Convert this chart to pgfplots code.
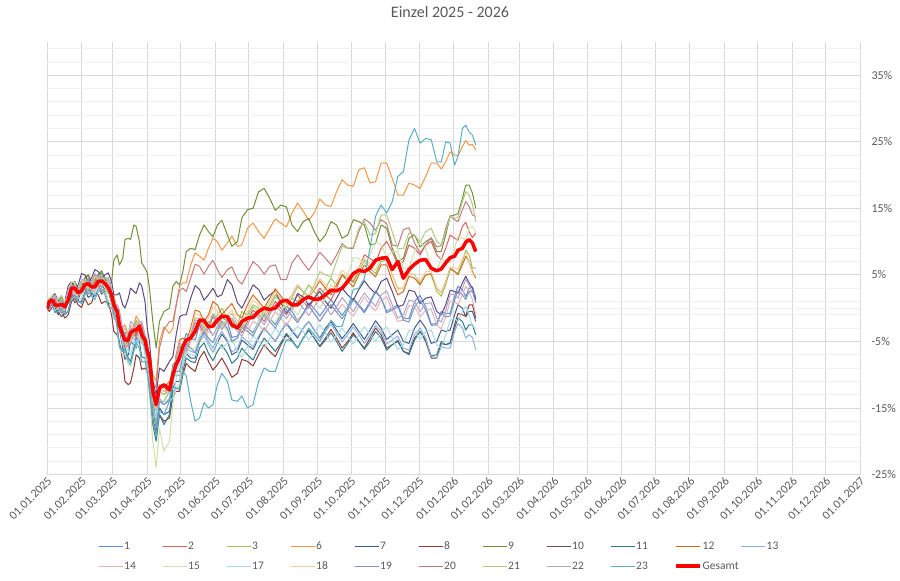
\documentclass[border=0pt]{standalone}
\usepackage{fontspec}
\setmainfont{Carlito}
\usepackage{pgfplots}
\usepackage{pgfplotstable}
\pgfplotsset{compat=1.18}
\definecolor{txt}{HTML}{595959}
\definecolor{gmaj}{HTML}{D9D9D9}
\definecolor{gmin}{HTML}{F0F0F0}
\definecolor{c1}{HTML}{5E8FD0}
\definecolor{c2}{HTML}{D9625E}
\definecolor{c3}{HTML}{96C55A}
\definecolor{c6}{HTML}{F7964A}
\definecolor{c7}{HTML}{3E5E8E}
\definecolor{c8}{HTML}{8E3B39}
\definecolor{c9}{HTML}{728F3A}
\definecolor{c10}{HTML}{5E4A7E}
\definecolor{c11}{HTML}{2E7C8E}
\definecolor{c12}{HTML}{D06F1E}
\definecolor{c13}{HTML}{8DB1DF}
\definecolor{c14}{HTML}{E8B4B2}
\definecolor{c15}{HTML}{CFE0AA}
\definecolor{c17}{HTML}{A8DAE6}
\definecolor{c18}{HTML}{FCCB9E}
\definecolor{c19}{HTML}{7A97C5}
\definecolor{c20}{HTML}{C47C79}
\definecolor{c21}{HTML}{B0CA82}
\definecolor{c22}{HTML}{B3A3CC}
\definecolor{c23}{HTML}{5AAEC4}
\definecolor{cg}{HTML}{FF0000}

% one row per series; columns are days since 01.01.2025
\pgfplotstableread{
name 0 5 10 16 22 28 34 40 46 52 58 63 68 73 78 83 88 92 95 98 101 105 110 116 122 129 137 145 153 162 171 180 190 200 210 220 230 240 250 260 270 280 290 300 310 320 330 340 350 358 366 373 379 385 2 7 13 19 25 31 37 43 49 55 60 65 70 75 80 85 90 113 119 125 133 141 149 157 166 175 185 195 205 215 225 235 245 255 265 275 285 295 305 315 325 335 345 354 362 369 376 382
s1 0 1.5 0.8 0.2 3.5 2.8 4.5 3.6 5.0 4.2 2.5 -0.5 -3.8 -5.0 -3.2 -2.5 -4.8 -9.0 -14.0 -17.0 -12.5 -13.0 -12.0 -8.0 -5.5 -4.5 -2.5 -3.0 -2.8 -2.0 -4.2 -3.0 -2.0 -1.5 -1.0 -0.5 -0.8 -0.1 0.0 0.0 0.2 0.5 1.0 1.5 0.0 -1.5 1.0 0.2 -2.3 -0.8 1.8 2.8 3.0 1.5 1.4 0.3 1.2 0.9 4.0 2.7 4.9 3.4 5.3 4.2 0.0 -1.0 -5.6 -3.1 -4.0 -2.3 -7.9 -8.5 -8.0 -3.8 -4.8 -1.5 -4.1 -1.4 -4.4 -2.4 -3.7 -0.5 -2.5 0.3 -1.9 0.8 -1.2 1.3 -1.1 1.5 -0.5 2.6 -0.5 0.5 -1.6 1.9 -2.4 -0.5 -0.8 3.3 1.7 3.2
s2 0 1.2 0.5 0.8 3.2 2.5 3.5 3.8 4.5 4.0 2.2 -0.5 -3.5 -4.5 -3.0 -2.5 -4.5 -9.0 -13.5 -15.0 -12.0 -12.5 -12.0 -8.0 -6.0 -4.5 -2.5 -3.0 -2.0 -2.0 -3.0 -2.0 -1.0 -0.5 0.0 0.5 1.0 1.5 2.0 3.0 4.5 6.0 7.5 9.0 8.5 7.0 9.0 9.5 8.0 9.0 10.5 12.3 11.5 11.3 0.0 1.7 -0.1 2.9 2.1 3.9 2.9 5.0 3.5 4.0 -0.2 -1.0 -5.0 -2.6 -3.8 -2.5 -7.6 -11.5 -5.8 -6.5 -2.2 -4.0 -1.3 -3.2 -1.5 -3.7 -0.3 -2.0 1.0 -1.0 2.0 0.0 3.0 1.2 5.0 4.0 8.0 6.8 10.0 6.5 9.5 8.0 10.0 7.3 11.0 10.2 12.9 10.6
s3 0 1.5 1.0 0.5 3.5 3.0 4.5 4.0 5.0 4.5 2.5 0.0 -3.5 -4.5 -3.0 -2.5 -4.5 -9.0 -15.0 -17.5 -14.0 -14.0 -12.5 -8.0 -6.0 -4.0 -1.5 -2.0 -1.0 -1.5 -2.5 -1.0 0.0 0.5 1.0 1.5 2.0 2.5 3.0 3.5 4.5 5.5 6.0 7.0 5.0 3.0 5.0 5.0 2.5 3.5 5.5 7.0 8.0 6.0 1.3 1.9 0.0 2.8 2.5 3.1 5.1 3.7 5.6 4.3 0.3 -0.8 -5.2 -4.5 -1.8 -4.7 -6.0 -9.0 -5.7 -6.2 -1.5 -3.0 -2.3 0.0 -3.0 -0.5 0.5 -1.0 2.0 0.0 1.0 3.5 1.5 4.5 5.0 3.8 7.2 5.2 7.3 3.0 5.3 3.7 5.0 1.8 5.8 5.2 8.7 6.0
s6 0 1.2 0.8 0.5 3.2 2.5 3.8 3.5 4.5 4.2 2.5 -0.5 -3.0 -4.0 -2.5 -2.0 -4.0 -7.5 -10.0 -11.0 -5.0 -2.8 -3.8 0.5 3.8 6.5 7.8 9.0 10.0 9.8 9.3 12.0 11.5 12.0 12.8 14.3 14.6 14.3 15.5 17.5 18.5 20.8 18.8 21.8 19.5 17.0 18.5 19.8 21.8 22.0 23.0 24.3 24.5 23.8 1.2 0.3 1.5 1.0 3.6 2.3 4.5 3.2 5.0 2.6 1.9 -2.8 -2.5 -4.2 -1.2 -4.0 -5.0 -3.0 3.3 3.8 8.3 7.2 10.5 8.7 10.8 9.5 12.8 10.5 13.4 12.2 15.8 13.2 16.4 15.3 19.3 18.3 21.1 19.0 21.8 17.0 18.8 18.0 21.8 20.9 23.5 22.9 25.2 24.6
s7 0 0.8 -0.5 -0.8 2.0 1.2 2.8 2.0 3.2 2.6 0.8 -2.0 -6.0 -7.0 -5.5 -4.5 -6.5 -11.0 -16.5 -19.0 -15.0 -16.0 -15.5 -11.0 -8.5 -7.5 -5.0 -5.5 -5.2 -5.0 -6.5 -5.5 -4.5 -4.0 -3.5 -3.5 -3.0 -3.3 -3.0 -3.3 -3.5 -3.5 -3.3 -3.0 -4.0 -5.0 -3.0 -3.0 -5.0 -3.5 -1.0 0.0 -0.5 -2.0 -0.1 0.9 -1.3 1.4 0.8 2.8 1.6 3.4 2.1 2.5 -1.5 -3.0 -7.7 -5.0 -6.0 -4.5 -9.8 -12.0 -11.0 -6.8 -7.5 -4.0 -6.6 -3.9 -7.0 -4.8 -6.2 -3.0 -5.0 -2.3 -4.5 -2.0 -4.5 -2.0 -4.6 -2.3 -4.7 -1.9 -4.7 -3.3 -5.3 -1.8 -5.3 -3.3 -3.3 0.5 -1.3 -0.5
s8 0 0.2 -1.0 -1.5 1.0 0.5 1.5 0.8 2.0 1.0 -1.0 -4.0 -8.0 -11.5 -9.0 -7.5 -9.0 -12.0 -17.0 -18.5 -16.0 -17.0 -16.5 -12.5 -10.0 -9.0 -7.5 -8.0 -8.5 -9.0 -9.8 -8.0 -7.0 -6.5 -5.5 -5.0 -4.5 -4.5 -4.5 -4.5 -5.0 -5.0 -4.5 -4.0 -5.5 -6.5 -4.5 -5.0 -7.5 -5.5 -2.5 -1.0 0.5 -1.5 -0.5 0.2 -0.5 -1.0 1.5 0.1 0.5 2.3 0.7 0.8 -3.5 -5.0 -11.0 -11.2 -7.0 -9.2 -9.5 -13.2 -12.5 -8.3 -9.5 -6.5 -9.3 -7.5 -10.4 -7.7 -8.7 -5.5 -7.3 -4.0 -6.0 -3.3 -5.7 -3.2 -6.0 -3.7 -6.0 -3.0 -6.0 -5.0 -6.8 -3.5 -7.5 -5.3 -5.2 -0.8 -1.2 0.5
s9 0 1.5 1.0 0.8 3.5 3.0 4.5 4.0 5.0 4.5 4.0 8.0 7.5 10.5 12.5 10.0 6.0 3.0 -2.0 -6.0 -2.0 -0.5 0.0 4.0 5.5 9.0 11.0 11.5 12.5 11.0 10.0 14.8 17.5 16.5 15.5 12.5 13.0 11.5 11.0 12.5 11.0 13.0 9.5 12.5 9.0 7.5 11.0 10.0 8.5 11.0 14.0 16.5 18.5 15.0 1.4 0.5 1.7 1.4 4.0 3.0 5.0 3.7 5.6 3.5 7.2 6.5 10.3 10.3 12.3 6.8 5.3 3.3 3.5 8.5 8.8 12.5 10.7 13.2 9.3 13.6 15.0 18.0 14.7 15.2 11.5 13.5 10.0 13.0 10.5 13.3 12.5 9.7 12.0 7.0 10.5 9.2 10.5 8.5 13.8 14.2 18.5 17.3
s10 0 1.8 1.2 1.0 4.0 3.5 5.0 4.5 5.5 5.0 4.0 2.0 0.5 1.5 2.5 3.8 1.0 -5.0 -11.0 -13.0 -9.0 -9.5 -8.0 -4.0 -1.0 1.5 2.8 2.0 1.7 4.3 0.8 1.7 2.8 2.0 0.8 0.2 1.7 1.5 1.0 1.5 2.0 2.8 3.0 4.0 2.5 0.5 2.5 1.5 -0.5 0.5 2.5 3.8 3.8 1.2 0.4 2.2 0.4 3.3 3.0 5.2 4.0 5.8 4.5 5.3 2.0 2.3 0.0 3.0 2.2 3.4 -3.0 -7.3 -1.3 -1.0 3.4 1.2 3.0 2.0 3.5 0.0 3.5 1.2 2.6 -0.7 2.2 0.4 2.5 0.0 3.0 1.2 4.1 2.2 4.5 0.2 2.7 0.7 1.7 -1.0 2.7 2.2 4.8 3.0
s11 0 0.5 -0.3 -1.0 1.8 1.0 2.5 2.2 3.0 2.8 0.5 -2.5 -6.5 -7.5 -6.0 -5.0 -7.5 -12.0 -17.5 -20.0 -16.0 -17.5 -16.0 -12.0 -9.5 -8.0 -6.0 -6.8 -6.5 -6.8 -7.5 -7.0 -6.0 -5.5 -5.2 -4.8 -4.5 -4.5 -4.8 -5.0 -5.3 -5.0 -5.0 -4.5 -5.5 -6.5 -4.8 -4.7 -7.0 -5.5 -3.0 -2.0 -2.5 -4.0 0.8 -0.6 0.0 -0.4 2.2 1.0 3.2 1.8 3.6 0.9 -0.2 -5.5 -6.0 -8.0 -4.5 -7.3 -9.0 -12.7 -12.0 -7.5 -8.2 -5.2 -7.9 -5.5 -8.3 -6.0 -7.8 -4.5 -6.5 -3.8 -6.0 -3.3 -5.8 -3.7 -6.5 -4.0 -6.2 -3.5 -6.3 -4.8 -7.0 -3.5 -7.2 -5.0 -5.3 -1.5 -3.3 -2.5
s12 0 1.0 0.6 0.4 3.0 2.5 3.5 3.2 4.0 3.8 2.0 -0.5 -4.0 -5.0 -3.5 -3.0 -5.0 -9.0 -13.0 -14.0 -11.5 -12.0 -11.0 -7.0 -4.5 -3.0 -0.5 -1.0 0.5 0.0 -1.0 0.5 1.0 1.5 1.8 2.0 2.5 2.8 3.0 3.5 4.0 5.0 5.5 6.5 4.0 2.5 4.5 5.0 3.0 4.0 5.5 6.5 7.0 4.5 1.0 0.2 1.3 2.4 2.0 3.8 2.8 4.4 3.1 3.7 -0.3 -1.3 -5.5 -3.3 -4.3 -3.0 -8.0 -10.2 -4.8 -5.0 -0.3 -2.0 1.0 -1.0 0.7 -1.5 2.0 0.0 2.9 0.7 3.5 1.5 4.1 2.0 5.0 3.2 6.5 4.7 6.5 2.0 4.8 3.5 5.2 2.3 6.0 5.0 7.8 5.5
s13 0 1.2 0.5 0.3 3.2 2.5 3.8 3.5 4.2 3.8 2.0 -1.0 -5.0 -6.0 -4.5 -3.8 -6.0 -10.0 -15.0 -16.5 -13.5 -14.5 -13.5 -10.0 -8.0 -6.5 -4.5 -5.0 -4.5 -4.8 -6.0 -5.0 -4.2 -4.0 -3.5 -3.2 -3.0 -3.3 -3.5 -3.7 -4.0 -4.0 -4.0 -3.5 -4.8 -6.0 -4.0 -4.5 -7.5 -6.0 -3.5 -3.0 -4.0 -6.3 0.1 1.6 -0.3 2.6 2.0 4.0 2.8 4.6 3.2 3.7 -0.5 -2.0 -6.7 -4.0 -5.2 -3.9 -9.0 -10.5 -10.2 -6.0 -6.7 -3.5 -6.0 -3.5 -6.6 -4.3 -5.8 -2.9 -5.0 -2.2 -4.3 -2.0 -4.6 -2.4 -5.1 -2.8 -5.3 -2.6 -5.4 -4.2 -6.3 -3.0 -7.3 -5.8 -6.0 -2.3 -4.5 -4.4
s14 0 1.0 0.4 0.0 2.6 2.2 3.0 3.2 3.5 3.6 1.5 -1.2 -4.2 -5.2 -3.8 -3.0 -5.2 -9.2 -14.0 -15.0 -12.5 -13.0 -12.5 -8.5 -6.5 -5.0 -3.0 -3.5 -3.0 -3.2 -4.5 -3.5 -2.5 -2.0 -1.5 -1.2 -1.0 -0.8 -0.7 -0.6 -0.3 0.3 0.4 1.2 -0.3 -1.8 0.2 -0.3 -2.5 -1.3 1.0 2.0 2.5 -1.0 1.1 1.3 -0.5 2.1 1.6 2.0 3.9 2.5 4.3 3.3 -0.8 -1.7 -5.9 -5.3 -2.4 -5.3 -6.4 -9.2 -6.3 -7.0 -2.8 -4.5 -4.0 -1.9 -4.9 -2.8 -2.0 -3.5 -0.5 -2.6 -1.9 0.3 -2.0 0.6 0.6 -1.2 1.7 -0.4 1.7 -2.0 0.4 -1.3 -0.2 -3.1 1.1 0.5 3.3 1.3
s15 0 2.0 1.5 1.0 4.0 2.0 3.5 3.0 4.5 3.0 0.5 -3.0 -7.0 -8.5 -6.5 -6.0 -8.0 -13.0 -20.0 -24.0 -18.0 -21.5 -20.0 -12.0 -8.0 -6.0 -4.0 -4.5 -3.5 -3.5 -4.5 -3.5 -2.0 -1.5 -0.5 0.0 0.5 1.0 1.5 3.0 5.0 7.5 8.0 9.5 8.5 6.0 8.5 9.0 5.5 7.0 9.0 10.5 12.0 11.5 1.6 1.0 2.0 1.7 3.8 2.0 4.0 3.0 4.5 1.0 -0.3 -6.0 -6.8 -8.7 -5.3 -8.0 -9.7 -14.5 -11.3 -5.8 -6.2 -3.0 -5.2 -2.3 -5.2 -2.8 -4.0 -0.5 -2.2 1.0 -1.0 2.0 0.0 3.5 2.8 7.6 6.5 10.0 7.7 8.5 6.0 10.0 6.0 7.5 6.8 10.8 10.3 12.3
s17 0 0.7 0.0 -0.5 2.2 1.5 2.8 2.6 3.2 3.0 1.0 -2.0 -5.5 -6.5 -5.0 -4.5 -6.8 -10.5 -15.5 -16.5 -14.0 -14.5 -14.0 -10.5 -8.5 -7.0 -5.0 -5.5 -5.0 -5.2 -6.5 -5.8 -5.0 -4.5 -4.0 -3.8 -3.5 -3.7 -3.8 -4.0 -4.3 -4.0 -4.0 -3.5 -4.5 -5.5 -3.5 -3.5 -5.5 -4.0 -1.5 -0.5 -1.0 -3.0 0.9 -0.4 -0.9 1.7 2.6 1.4 3.5 2.0 2.5 2.8 -1.5 -2.8 -5.0 -7.0 -5.8 -4.7 -9.7 -13.5 -8.3 -6.6 -7.2 -4.0 -6.5 -6.1 -4.7 -7.4 -4.2 -6.0 -3.0 -5.1 -2.7 -4.8 -2.5 -5.1 -3.0 -5.4 -2.8 -5.0 -2.8 -6.2 -3.3 -4.7 -3.3 -6.0 -1.8 -2.0 0.3 -2.8
s18 0 1.5 0.8 0.5 3.0 2.5 4.0 3.5 4.5 4.0 2.5 -0.5 -3.5 -4.5 -3.0 -2.0 -4.0 -8.5 -13.5 -15.0 -12.0 -12.5 -11.5 -7.5 -5.0 -3.5 -1.0 -1.5 -0.5 -1.0 -2.0 -0.5 0.5 1.0 1.5 2.0 2.5 3.0 3.5 4.0 5.0 6.0 6.5 7.5 5.0 3.0 5.0 5.5 3.0 4.0 6.0 7.5 7.0 5.0 0.3 1.9 0.0 2.6 2.0 4.1 3.0 4.8 3.5 4.0 0.0 -1.0 -5.0 -2.5 -3.5 -2.0 -7.3 -10.8 -5.1 -5.5 -0.9 -2.5 0.2 -2.0 -0.3 -2.5 1.2 -0.5 2.5 0.5 3.5 1.5 4.5 2.5 5.7 4.3 7.5 5.7 7.5 2.8 5.3 4.0 5.5 2.3 6.2 5.8 8.3 5.2
s19 0 1.3 0.6 0.3 3.0 2.4 3.8 3.3 4.2 3.9 2.2 -0.5 -4.0 -5.2 -3.5 -3.0 -5.0 -9.5 -15.5 -18.0 -14.0 -14.5 -13.8 -9.5 -7.2 -6.0 -5.0 -4.5 -3.5 -3.0 -4.5 -3.5 -2.5 -2.0 -1.5 -1.2 -0.8 -0.8 -0.7 -0.6 -0.3 0.3 0.7 1.5 -0.3 -1.8 0.2 -0.3 -2.5 -1.3 1.2 2.0 2.5 0.8 1.2 0.2 1.2 0.8 3.5 2.3 4.3 2.9 4.8 2.2 1.7 -3.2 -3.6 -5.5 -2.2 -5.1 -6.4 -10.3 -9.5 -5.4 -6.7 -3.5 -5.2 -2.0 -5.0 -2.8 -4.2 -1.0 -3.0 -0.2 -2.2 0.4 -2.0 0.5 -1.6 1.2 -0.7 2.4 -0.7 0.2 -2.1 1.2 -2.6 -0.7 -1.2 2.6 1.3 2.5
s20 0 1.0 0.3 -0.5 2.5 1.8 3.0 2.8 3.5 3.0 1.5 -1.5 -4.5 -5.5 -4.0 -3.0 -5.5 -8.0 -11.0 -12.0 -6.0 -3.3 -2.0 0.5 3.0 4.5 6.3 6.3 5.8 5.8 4.3 5.3 6.3 6.3 4.3 6.8 6.8 7.0 7.5 8.0 9.0 11.5 12.8 13.3 9.5 11.8 9.8 9.5 9.2 12.0 13.3 14.8 15.3 13.8 0.0 1.4 -0.7 1.8 1.4 3.2 2.1 4.0 2.5 3.0 -1.0 -2.0 -6.0 -3.5 -4.5 -3.2 -7.5 -2.0 2.7 2.5 6.6 5.1 7.2 4.6 6.2 3.6 7.0 5.1 6.5 4.3 8.0 5.7 8.4 6.5 9.7 9.0 13.4 11.7 12.7 9.3 12.1 8.3 10.6 9.4 13.9 13.0 16.0 14.0
s21 0 1.0 0.5 0.8 3.0 2.5 3.8 3.5 4.5 4.0 2.0 -0.5 -3.5 -4.5 -3.5 -3.0 -5.0 -9.5 -14.0 -15.5 -12.5 -13.0 -12.0 -8.0 -5.5 -4.0 -2.0 -2.5 -1.5 -1.5 -2.5 -1.5 -0.5 0.0 1.0 1.5 2.5 3.5 5.0 7.0 9.0 12.0 11.0 14.0 11.5 9.0 11.0 11.5 10.0 11.5 13.5 16.0 17.0 13.0 1.1 0.1 1.4 1.1 3.4 3.9 2.8 4.6 5.0 2.2 1.8 -3.0 -3.0 -5.2 -2.2 -5.0 -6.2 -11.3 -5.5 -6.0 -1.8 -3.5 -0.8 -2.7 -0.8 -3.2 0.2 -1.5 1.7 0.0 3.2 1.8 5.5 4.7 9.3 9.2 13.0 11.2 14.0 8.9 11.3 9.9 12.0 9.5 13.8 13.7 17.5 15.6
s22 0 1.5 1.0 0.5 3.5 2.8 4.2 4.0 4.8 4.5 3.0 0.5 -3.0 -4.0 -2.5 -2.0 -4.0 -8.5 -13.0 -14.5 -11.5 -12.0 -11.5 -7.5 -5.5 -4.0 -2.0 -2.5 -2.0 -2.0 -3.5 -2.5 -1.5 -1.0 -0.5 -0.2 0.0 0.2 0.3 0.2 0.5 1.0 1.2 2.0 0.5 -1.0 1.0 0.7 -1.5 -0.3 2.0 3.0 3.5 2.0 0.2 2.0 0.1 2.8 2.3 4.3 3.3 5.2 3.8 4.6 0.8 -0.3 -4.5 -2.0 -3.3 -2.0 -7.0 -10.8 -5.3 -6.0 -1.8 -3.5 -1.0 -3.2 -1.5 -4.2 -0.8 -2.5 0.5 -1.6 1.1 -1.1 1.5 -1.0 1.6 -0.5 2.3 0.3 2.6 -1.5 1.2 -0.5 0.8 -2.1 2.1 1.5 4.3 2.3
s23 0 0.5 -0.5 -1.0 1.5 1.0 2.0 1.8 2.5 2.0 0.0 -3.0 -6.5 -8.0 -6.5 -6.0 -8.0 -12.5 -17.0 -19.0 -15.5 -16.0 -14.0 -12.0 -9.5 -14.0 -16.5 -15.0 -11.5 -11.0 -14.0 -15.0 -11.0 -9.5 -7.0 -5.0 -4.5 -4.0 -3.5 -2.8 0.0 3.0 9.0 15.5 16.0 20.5 27.0 25.5 22.0 25.0 21.5 27.0 26.5 24.5 0.8 -0.7 0.0 -0.5 2.0 0.7 2.7 1.3 3.0 0.2 -0.5 -5.8 -6.2 -8.5 -5.2 -8.1 -9.5 -11.7 -12.3 -10.2 -17.0 -14.2 -14.5 -9.8 -13.8 -13.2 -14.5 -9.0 -9.5 -4.7 -6.0 -3.0 -5.0 -1.8 -2.7 2.8 4.5 13.8 14.3 19.8 25.3 24.8 25.3 22.0 24.8 22.8 27.5 26.0
G 0 1.2 0.4 0.2 3.0 2.3 3.5 3.2 4.0 3.7 2.0 -0.5 -4.0 -4.8 -3.3 -2.7 -4.8 -7.5 -12.5 -14.5 -12.0 -11.5 -12.3 -8.5 -5.8 -4.5 -1.8 -2.8 -1.8 -1.3 -3.0 -1.5 -0.5 -0.2 1.0 0.5 1.3 1.3 2.0 2.6 4.0 5.7 6.0 7.5 5.8 4.5 6.6 7.3 5.6 6.8 7.8 9.0 10.3 8.5 1.0 0.5 0.6 1.2 3.0 2.6 3.7 3.2 4.1 3.1 0.5 -2.6 -4.8 -3.7 -3.3 -4.0 -6.4 -10.0 -7.4 -4.8 -3.5 -1.9 -2.7 -1.2 -2.5 -2.0 -1.4 0.0 0.0 1.2 0.5 1.7 1.4 2.7 3.0 5.2 5.5 7.2 7.6 7.0 5.8 7.2 6.0 5.9 7.6 8.7 9.9 9.8
}\raw
\pgfplotstabletranspose[colnames from=name,input colnames to=d]\tdata\raw
\pgfplotstablesort[sort key=d, sort cmp=float <]\data\tdata

\begin{document}
\begin{tikzpicture}
\path[use as bounding box] (-47bp,-106.5bp) rectangle (853bp,474.5bp);
\begin{axis}[
  at={(0,0)}, anchor=south west,
  scale only axis, width=813bp, height=432.5bp,
  xmin=0, xmax=730, ymin=-25, ymax=40,
  font=\fontsize{11.5bp}{13bp}\selectfont,
  axis line style={draw=none},
  tick style={draw=none},
  xtick={0,31,59,90,120,151,181,212,243,273,304,334,365,396,424,455,485,516,546,577,608,638,669,699,730},
  xticklabels={01.01.2025,01.02.2025,01.03.2025,01.04.2025,01.05.2025,01.06.2025,01.07.2025,01.08.2025,01.09.2025,01.10.2025,01.11.2025,01.12.2025,01.01.2026,01.02.2026,01.03.2026,01.04.2026,01.05.2026,01.06.2026,01.07.2026,01.08.2026,01.09.2026,01.10.2026,01.11.2026,01.12.2026,01.01.2027},
  xticklabel style={rotate=45, anchor=north east, inner sep=1bp, text=txt, font=\fontsize{12bp}{13bp}\selectfont},
  ytick={-25,-15,-5,5,15,25,35},
  yticklabels={-25\%,-15\%,-5\%,5\%,15\%,25\%,35\%},
  minor ytick={-23,-21,...,39},
  yticklabel pos=right,
  yticklabel style={anchor=west, xshift=8bp, text=txt, font=\fontsize{12bp}{13bp}\selectfont},
  xmajorgrids, ymajorgrids, yminorgrids,
  major grid style={gmaj, line width=0.8bp},
  minor grid style={gmin, line width=0.8bp},
  extra y ticks={0}, extra y tick labels={},
  extra y tick style={grid=major, major grid style={gmaj!110!black, line width=1bp}},
  title={Einzel 2025 - 2026},
  title style={at={(0.5,1)}, anchor=center, yshift=24.5bp, xshift=-3.5bp, font=\fontsize{16bp}{18bp}\selectfont, text=txt},
  every axis plot/.append style={line width=1bp, line join=round},
  legend columns=11,
  legend cell align=left,
  legend image code/.code={\draw[#1] (0bp,0bp) -- (24bp,0bp);},
  legend style={draw=none, fill=none, inner sep=0bp, column sep=0bp, row sep=10bp,
    at={(axis description cs:0,0)}, anchor=north west, xshift=51bp, yshift=-66.5bp,
    font=\fontsize{11.5bp}{13bp}\selectfont, text=txt,
    nodes={text width=37bp, align=left, inner xsep=1bp, inner ysep=0bp, text height=8bp, text depth=2bp}},
]
\addplot[c1] table[x=d,y=s1]{\data}; \addlegendentry{1}
\addplot[c2] table[x=d,y=s2]{\data}; \addlegendentry{2}
\addplot[c3] table[x=d,y=s3]{\data}; \addlegendentry{3}
\addplot[c6] table[x=d,y=s6]{\data}; \addlegendentry{6}
\addplot[c7] table[x=d,y=s7]{\data}; \addlegendentry{7}
\addplot[c8] table[x=d,y=s8]{\data}; \addlegendentry{8}
\addplot[c9] table[x=d,y=s9]{\data}; \addlegendentry{9}
\addplot[c10] table[x=d,y=s10]{\data}; \addlegendentry{10}
\addplot[c11] table[x=d,y=s11]{\data}; \addlegendentry{11}
\addplot[c12] table[x=d,y=s12]{\data}; \addlegendentry{12}
\addplot[c13] table[x=d,y=s13]{\data}; \addlegendentry{13}
\addplot[c14] table[x=d,y=s14]{\data}; \addlegendentry{14}
\addplot[c15] table[x=d,y=s15]{\data}; \addlegendentry{15}
\addplot[c17] table[x=d,y=s17]{\data}; \addlegendentry{17}
\addplot[c18] table[x=d,y=s18]{\data}; \addlegendentry{18}
\addplot[c19] table[x=d,y=s19]{\data}; \addlegendentry{19}
\addplot[c20] table[x=d,y=s20]{\data}; \addlegendentry{20}
\addplot[c21] table[x=d,y=s21]{\data}; \addlegendentry{21}
\addplot[c22] table[x=d,y=s22]{\data}; \addlegendentry{22}
\addplot[c23] table[x=d,y=s23]{\data}; \addlegendentry{23}
\addplot[cg, line width=3.5bp] table[x=d,y=G]{\data}; \addlegendentry{Gesamt}
\end{axis}
\end{tikzpicture}
\end{document}
